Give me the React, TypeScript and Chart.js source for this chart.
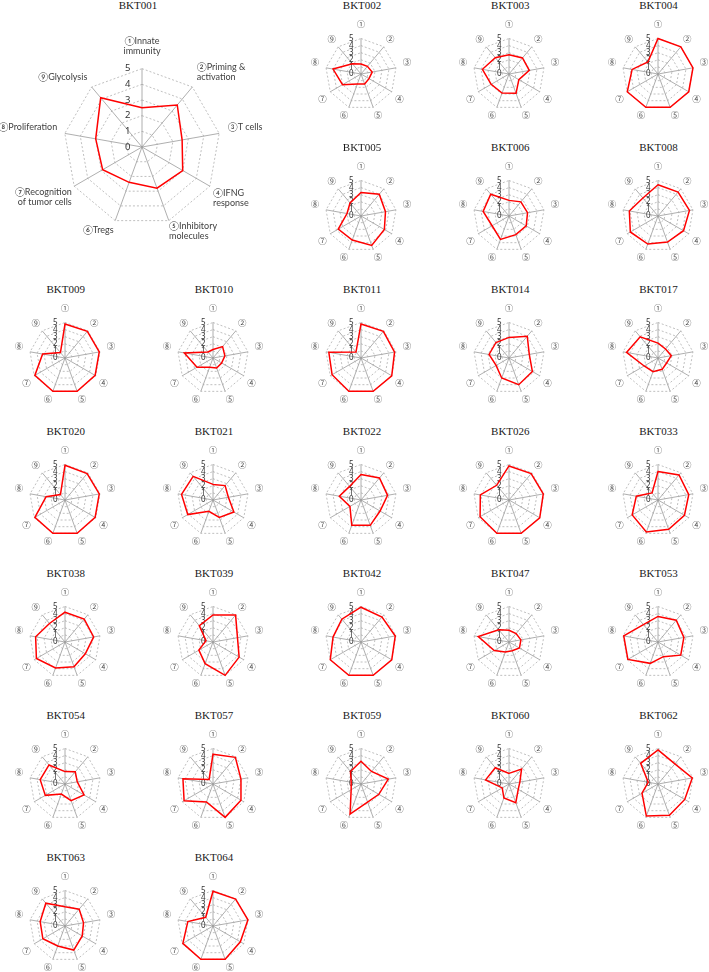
import React, { useEffect, useRef } from 'react';
import { Chart, registerables } from 'chart.js';

Chart.register(...registerables);

// axis labels
const axisLabelsLong: (string | string[])[] = [
  ['①Innate', 'immunity'],
  ['②Priming &', 'activation'],
  '③T cells',
  ['④IFNG', 'response'],
  ['⑤Inhibitory', 'molecules'],
  '⑥Tregs',
  ['⑦Recognition', 'of tumor cells'],
  '⑧Proliferation',
  '⑨Glycolysis',
];
const axisLabelsShort = ['①', '②', '③', '④', '⑤', '⑥', '⑦', '⑧', '⑨'];
const tickLabels = ['0', '1', '2', '3', '4', '5'];

// scores per patient (axes ①..⑨)
const BKT001 = [2.5, 3.5, 2.6, 3.0, 2.8, 2.4, 2.9, 3.0, 4.1];
const BKT002 = [1.4, 1.4, 1.6, 1.3, 1.5, 1.5, 3.0, 4.0, 1.9];
const BKT003 = [2.7, 2.95, 2.9, 1.6, 2.9, 2.85, 2.9, 3.8, 3.0];
const BKT004 = [5, 5, 5, 5, 5, 5, 5, 3.7, 2.2];
const BKT005 = [3.3, 4.0, 3.5, 3.8, 4.4, 3.6, 3.7, 2.0, 2.4];
const BKT006 = [2.2, 2.6, 2.65, 2.8, 2.8, 3.5, 2.75, 3.7, 4.0];
const BKT008 = [4.4, 4.4, 4.5, 4.15, 3.9, 4.2, 4.5, 4.1, 3.3];
const BKT009 = [4.8, 4.9, 4.9, 4.9, 5, 5, 4.9, 3.2, 1.0];
const BKT010 = [1.2, 2.1, 1.7, 1.4, 1.5, 1.4, 2.6, 4.1, 1.1];
const BKT011 = [4.8, 4.9, 4.8, 5, 5, 5, 4.7, 4.6, 1.1];
const BKT014 = [2.9, 4.0, 2.9, 3.8, 4.0, 3.0, 2.1, 2.85, 2.85];
const BKT017 = [2.1, 1.65, 1.9, 1.4, 1.7, 2.05, 2.25, 4.5, 3.9];
const BKT020 = [4.9, 4.85, 4.9, 4.9, 5, 5, 4.9, 2.7, 1.0];
const BKT021 = [2.2, 2.65, 2.2, 3.4, 2.6, 1.7, 4.1, 4.5, 4.35];
const BKT022 = [3.6, 4.05, 3.8, 3.1, 3.8, 3.8, 1.8, 3.1, 2.5];
const BKT026 = [4.8, 4.85, 4.9, 5, 5, 5, 4.7, 4.1, 2.7];
const BKT033 = [4.0, 4.6, 4.4, 4.3, 4.4, 4.8, 4.2, 3.1, 1.3];
const BKT038 = [4.2, 4.2, 4.1, 3.3, 3.7, 3.9, 4.65, 4.2, 3.4];
const BKT039 = [3.8, 4.95, 3.5, 4.25, 5, 3.25, 2.3, 1.0, 3.0];
const BKT042 = [4.9, 4.6, 4.9, 5, 5, 5, 5, 4.0, 4.2];
const BKT047 = [1.65, 1.55, 1.7, 1.7, 1.3, 1.5, 2.4, 4.4, 2.25];
const BKT053 = [3.6, 4.0, 3.7, 3.7, 2.2, 3.2, 4.9, 4.9, 3.2];
const BKT054 = [1.75, 2.25, 1.75, 3.1, 2.5, 1.5, 3.2, 3.55, 3.5];
const BKT057 = [4.2, 4.9, 4.0, 4.55, 5, 2.7, 4.7, 4.3, 0.85];
const BKT059 = [3.2, 2.3, 3.9, 2.9, 2.7, 4.5, 1.6, 1.4, 2.3];
const BKT060 = [1.5, 2.75, 1.55, 1.5, 2.8, 2.1, 1.1, 3.35, 3.0];
const BKT062 = [4.8, 3.7, 4.9, 4.35, 4.7, 4.8, 2.6, 1.4, 3.8];
const BKT063 = [2.7, 3.1, 2.65, 2.8, 3.6, 3.0, 3.6, 3.55, 4.2];
const BKT064 = [4.9, 4.95, 5, 4.45, 5, 5, 4.9, 3.6, 1.6];

// grid placement of the small charts: [name, values, row, col]
const smallCharts: [string, number[], number, number][] = [
  ['BKT002', BKT002, 0, 2], ['BKT003', BKT003, 0, 3], ['BKT004', BKT004, 0, 4],
  ['BKT005', BKT005, 1, 2], ['BKT006', BKT006, 1, 3], ['BKT008', BKT008, 1, 4],
  ['BKT009', BKT009, 2, 0], ['BKT010', BKT010, 2, 1], ['BKT011', BKT011, 2, 2], ['BKT014', BKT014, 2, 3], ['BKT017', BKT017, 2, 4],
  ['BKT020', BKT020, 3, 0], ['BKT021', BKT021, 3, 1], ['BKT022', BKT022, 3, 2], ['BKT026', BKT026, 3, 3], ['BKT033', BKT033, 3, 4],
  ['BKT038', BKT038, 4, 0], ['BKT039', BKT039, 4, 1], ['BKT042', BKT042, 4, 2], ['BKT047', BKT047, 4, 3], ['BKT053', BKT053, 4, 4],
  ['BKT054', BKT054, 5, 0], ['BKT057', BKT057, 5, 1], ['BKT059', BKT059, 5, 2], ['BKT060', BKT060, 5, 3], ['BKT062', BKT062, 5, 4],
  ['BKT063', BKT063, 6, 0], ['BKT064', BKT064, 6, 1],
];

const FIG = '\u2007';
const BIG_LABEL_FONT = "Lato, 'Noto Sans CJK JP', sans-serif";
const SMALL_LABEL_FONT = "'Noto Sans CJK JP', 'Noto Sans', sans-serif";
const TICK_FONT = "'Noto Sans', 'DejaVu Sans', sans-serif";

type RadarProps = {
  labels: (string | string[])[];
  values: number[];
  left: number;
  top: number;
  width: number;
  height: number;
  big: boolean;
};

function Radar({ labels, values, left, top, width, height, big }: RadarProps) {
  const ref = useRef<HTMLCanvasElement>(null);
  useEffect(() => {
    const smallPads = [3.3, -2.5, 1, -2, -4, -4, -2, 1, -2.5];
    const bigPads = [6.1, 0, 2, -3, -6, -2, -4, 1, 0];
    const pads = big ? bigPads : smallPads;
    const chart = new Chart(ref.current as HTMLCanvasElement, {
      type: 'radar',
      data: {
        labels,
        datasets: [
          {
            data: values,
            borderColor: '#ff0000',
            borderWidth: 1.5,
            pointRadius: 0,
            pointHoverRadius: 0,
            fill: false,
            tension: 0,
          },
        ],
      },
      options: {
        responsive: false,
        animation: false,
        events: [],
        plugins: { legend: { display: false }, tooltip: { enabled: false } },
        layout: { padding: 0 },
        scales: {
          r: {
            min: -0.0001,
            max: 5,
            ticks: {
              stepSize: 1,
              showLabelBackdrop: false,
              color: '#333333',
              font: { family: TICK_FONT, size: big ? 9.5 : 8 },
              callback: (v: any) => tickLabels[Math.round(Number(v))] + FIG.repeat(big ? 5 : 4) + '\u2009',
            },
            grid: { color: '#b0b0b0', lineWidth: 0.8 },
            border: { dash: [2, 2] },
            angleLines: { color: '#9a9a9a', lineWidth: 0.8 },
            pointLabels: {
              color: big ? '#404040' : '#4a4a4a',
              font: big
                ? { family: BIG_LABEL_FONT, size: 9, lineHeight: 1.1 }
                : { family: SMALL_LABEL_FONT, size: 8.5, lineHeight: 1.2 },
              padding: (ctx: any) => pads[ctx.index],
            },
          },
        },
      } as any,
    });
    return () => chart.destroy();
  }, []);
  return (
    <canvas
      ref={ref}
      width={width}
      height={height}
      style={{ position: 'absolute', left, top, width, height }}
    />
  );
}

function Title({ text, x, y }: { text: string; x: number; y: number }) {
  return (
    <div
      style={{
        position: 'absolute',
        left: x - 50,
        top: y - 6,
        width: 100,
        textAlign: 'center',
        font: "11px 'Liberation Serif', 'Times New Roman', serif",
        lineHeight: '12px',
        color: '#1a1a1a',
        whiteSpace: 'nowrap',
      }}
    >
      {text}
    </div>
  );
}

export default function App() {
  const colX = (c: number) => 65.7 + 148.2 * c;
  const rowY = (r: number) => 74.8 + 142.1 * r;
  return (
    <div
      style={{
        position: 'absolute',
        left: 0,
        top: 0,
        width: 709,
        height: 972,
        overflow: 'hidden',
        background: '#ffffff',
      }}
    >
      <Title text="BKT001" x={138} y={5} />
      <Radar labels={axisLabelsLong} values={BKT001} left={141.7 - 190} top={146.7 - 119} width={380} height={222} big={true} />
      {smallCharts.map(([name, vals, r, c]) => (
        <React.Fragment key={name}>
          <Title text={name} x={colX(c)} y={rowY(r) - 70.3} />
          <Radar labels={axisLabelsShort} values={vals} left={colX(c) - 55} top={rowY(r) - 60} width={110} height={110} big={false} />
        </React.Fragment>
      ))}
    </div>
  );
}
